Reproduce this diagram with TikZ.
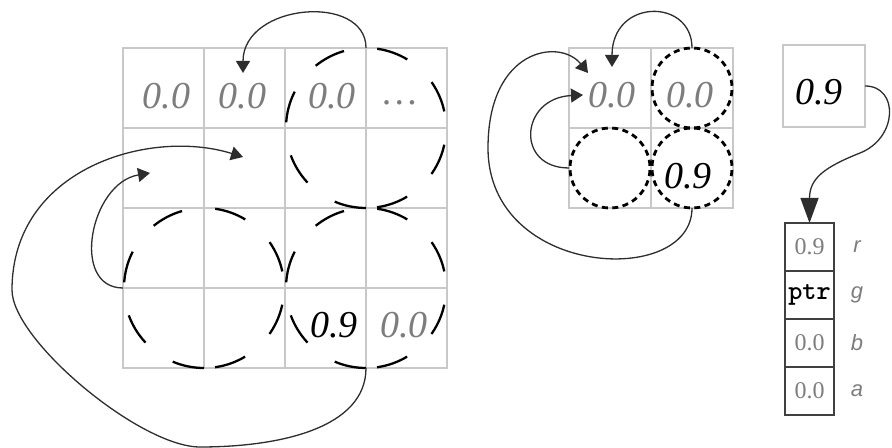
\documentclass[tikz,border=0pt]{standalone}
\usepackage{fontspec}
\setmainfont{Liberation Serif}
\newfontfamily\chanfont{Liberation Sans}
\usetikzlibrary{arrows.meta,positioning}
\definecolor{gridGray}{RGB}{200,200,200}
\definecolor{valGray}{RGB}{125,125,125}
\definecolor{arrGray}{RGB}{45,45,45}

\begin{document}
\begin{tikzpicture}[x=0.5pt, y=0.5pt,
    cell/.style={draw=gridGray, line width=0.65pt, minimum width=40.5pt, minimum height=40pt, inner sep=0pt, outer sep=0pt},
    scell/.style={cell, minimum width=41pt},
    pxcell/.style={draw=black!75, line width=0.8pt, minimum width=24.5pt, minimum height=24pt, inner sep=0pt, outer sep=0pt, font=\fontsize{12}{12}\selectfont, text=valGray},
    val/.style={inner sep=0pt, font=\fontsize{19}{20}\selectfont\itshape, text=valGray},
    hit/.style={val, text=black},
    chan/.style={inner sep=0pt, font=\chanfont\itshape\fontsize{11}{12}\selectfont, text=valGray},
    bigring/.style={line width=1.15pt, dash pattern=on 16.06pt off 16.76pt},
    smallring/.style={line width=1.4pt, dash pattern=on 3pt off 2.236pt, dash phase=4.118pt},
    link/.style={draw=arrGray, line width=0.65pt, -{Triangle[length=6pt,width=7pt]}},
    biglink/.style={link, -{Triangle[length=12.5pt,width=9pt]}}]
    \useasboundingbox (0,0) rectangle (892,448);

    % large texture
    \foreach \r in {1,...,4}
        \foreach \c in {1,...,4}
            \node[cell] (g\r\c) at ({123+81*(\c-0.5)},{400-80*(\r-0.5)}) {};
    \node[val] (t11) at (166.5,352) {0.0};
    \node[val] (t12) at (242.5,352) {0.0};
    \node[val] (t13) at (332,352) {0.0};
    \node[val] (t14) at (400,345) {\dots};
    \node[hit] (t43) at (334,123) {0.9};
    \node[val] (t44) at (404,123) {0.0};
    % rings start at the bottom and run clockwise
    \foreach \ctr in {g13,g31,g33}
        \draw[bigring] (\ctr.south east) ++(270:40pt) arc[start angle=270, end angle=-90, radius=40pt];

    % small texture
    \foreach \r in {1,2}
        \foreach \c in {1,2}
            \node[scell] (s\r\c) at ({569+82*(\c-0.5)},{400-80*(\r-0.5)}) {};
    \node[val] (u11) at (612,353) {0.0};
    \node[val] (u12) at (690,353) {0.0};
    \node[hit] (u22) at (688,271.5) {0.9};
    \foreach \ctr in {s12,s21,s22}
        \draw[smallring] (\ctr.center) circle[radius=20pt];

    % fetched value and pixel
    \node[cell, minimum width=41pt, minimum height=41pt] (val) at (824,362) {};
    \node[hit] (v) at (819,355.5) {0.9};
    \node[pxcell] (p1) at (809.5,201) {0.9};
    \node[pxcell, below=0pt of p1, text=black] (p2) {\fontsize{13.5}{14}\selectfont\ttfamily\bfseries ptr};
    \node[pxcell, below=0pt of p2] (p3) {0.0};
    \node[pxcell, below=0pt of p3] (p4) {0.0};
    \node[chan] (lr) at (857,201) {r};
    \node[chan] (lg) at (857,153) {g};
    \node[chan] (lb) at (857,105) {b};
    \node[chan] (la) at (857,57) {a};

    % arrow ends
    \coordinate (a1end) at (243,375);
    \coordinate (a2end) at (243,291);
    \coordinate (a3end) at (150,275);
    \coordinate (b1end) at (612,381);
    \coordinate (b2end) at (583,353);
    \coordinate (b3end) at (588,375);

    \draw[link] (g13.south east |- g13.north) .. controls +(0,55) and +(0,70) .. (a1end);
    \draw[link] (g43.south east) .. controls +(0,-60) and +(80,0) .. (200,1)
        .. controls +(-60,0) and +(0,-50) .. (12,158)
        .. controls +(0,122) and +(-93,29) .. (a2end);
    \draw[link] (g31.south west) .. controls +(-53,0) and +(-60,-10) .. (a3end);
    \draw[link] (s12.north) .. controls +(0,50) and +(0,69) .. (b1end);
    \draw[link] (s21.west) .. controls +(-54,0) and +(-63,-3) .. (b2end);
    \draw[link] (s22.south) .. controls +(0,-80) and +(0,-130) .. (488,300)
        .. controls +(0,100) and +(-28,35) .. (b3end);
    \draw[biglink] (val.east) .. controls +(34,0) and +(38,15) .. (860,295)
        .. controls +(-35,-14) and +(0,45) .. (p1.north);
\end{tikzpicture}
\end{document}
